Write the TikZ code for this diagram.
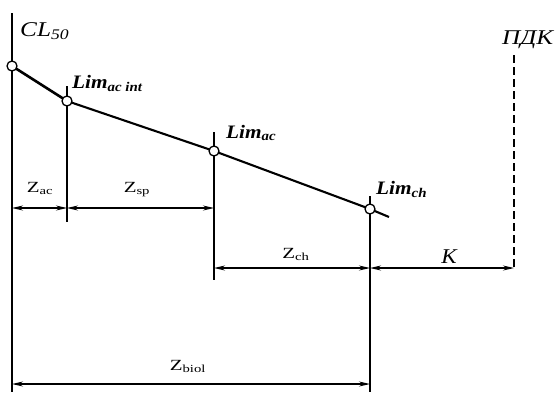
\documentclass[tikz,border=0pt]{standalone}
\usepackage{fontspec}
\setmainfont{Liberation Serif}
\usetikzlibrary{arrows.meta}
\newcommand{\hstr}[2]{\scalebox{#1}[1]{#2}}
\begin{document}
\begin{tikzpicture}[x=1pt,y=-1pt,
  ln/.style={line width=1.5pt},
  curve/.style={line width=2.1pt},
  pt/.style={circle,draw,line width=1.3pt,fill=white,minimum size=10pt,inner sep=0pt},
  dim/.style={line width=1.3pt,{Stealth[length=11pt,width=5pt]}-{Stealth[length=11pt,width=5pt]}},
  big/.style={font=\fontsize{21}{25}\selectfont\itshape,inner sep=0pt},
  bigb/.style={font=\fontsize{19}{23}\selectfont\bfseries\itshape,inner sep=0pt},
  zl/.style={font=\fontsize{15.5}{19}\selectfont,inner sep=0pt,anchor=base}]
\useasboundingbox (0,0) rectangle (556,392);
% named points
\coordinate (top0) at (12,13);
\coordinate (bot0) at (12,392);
\coordinate (top1) at (67,86);
\coordinate (bot1) at (67,222);
\coordinate (top2) at (214,132);
\coordinate (bot2) at (214,280);
\coordinate (top3) at (370,196);
\coordinate (bot3) at (370,392);
\coordinate (top4) at (514,55);
\coordinate (bot4) at (514,270);
\coordinate (tail) at (389,217);
% extension lines
\draw[ln] (top0) -- (bot0);
\draw[ln] (top1) -- (bot1);
\draw[ln] (top2) -- (bot2);
\draw[ln] (top3) -- (bot3);
\draw[ln,dash pattern=on 8pt off 4pt] (top4) -- (bot4);
% curve points
\coordinate (p0) at (12,66);
\coordinate (p1) at (67,101);
\coordinate (p2) at (214,151);
\coordinate (p3) at (370,209);
\draw[line width=2.6pt] (p0) -- (p1);
\draw[curve] (p1) -- (p2) -- (p3) -- (tail);
\node[pt] (c0) at (p0) {};
\node[pt] (c1) at (p1) {};
\node[pt] (c2) at (p2) {};
\node[pt] (c3) at (p3) {};
% labels of points
\node[big,anchor=base west] (lcl) at (20,36) {\hstr{1.2}{CL\textsubscript{50}}};
\node[bigb,anchor=base west] (l1) at (72,88) {\hstr{1.12}{Lim\textsubscript{ac int}}};
\node[bigb,anchor=base west] (l2) at (226,138) {\hstr{1.12}{Lim\textsubscript{ac}}};
\node[bigb,anchor=base west] (l3) at (376,194) {\hstr{1.12}{Lim\textsubscript{ch}}};
\node[big,anchor=base west] (lpdk) at (502,44) {\hstr{1.2}{ПДК}};
% dimension lines
\coordinate (a0) at (12,208);
\coordinate (a1) at (67,208);
\coordinate (a2) at (214,208);
\coordinate (b2) at (214,268);
\coordinate (b3) at (370,268);
\coordinate (b4) at (514,268);
\coordinate (e0) at (12,384);
\coordinate (e3) at (370,384);
\draw[dim] (a0) -- (a1);
\draw[dim] (a1) -- (a2);
\draw[dim] (b2) -- (b3);
\draw[dim] (b3) -- (b4);
\draw[dim] (e0) -- (e3);
\node[zl] (zac) at (40,192) {\hstr{1.35}{Z\textsubscript{ac}}};
\node[zl] (zsp) at (137,192) {\hstr{1.35}{Z\textsubscript{sp}}};
\node[zl] (zch) at (296,258) {\hstr{1.35}{Z\textsubscript{ch}}};
\node[big,anchor=base] (lk) at (449,263) {\hstr{1.1}{K}};
\node[zl] (zb) at (188,370) {\hstr{1.35}{Z\textsubscript{biol}}};
\end{tikzpicture}
\end{document}
